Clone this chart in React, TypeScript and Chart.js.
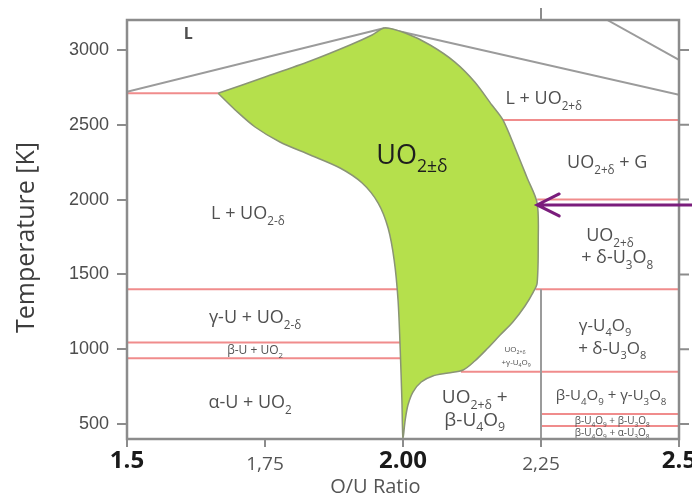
import { useEffect, useRef } from "react";
import { Chart, registerables } from "chart.js";

Chart.register(...registerables);

// ---- data (O/U ratio, temperature K) ----
const xTickValues = [1.5, 1.75, 2.0, 2.25, 2.5];
const xTickLabels = ["1.5", "1,75", "2.00", "2,25", "2.5"];
const xTickBold = [true, false, true, false, true];
const yTickValues = [500, 1000, 1500, 2000, 2500, 3000];

const uo2Region: [number, number][] = [
  [1.665, 2710], [1.75, 2819], [1.832, 2926], [1.904, 3033], [1.944, 3100], [1.967, 3147],
  [2.004, 3113], [2.049, 3033], [2.094, 2919], [2.13, 2786], [2.161, 2632], [2.181, 2532],
  [2.203, 2345], [2.225, 2144], [2.243, 1977], [2.245, 1730], [2.243, 1442], [2.236, 1382],
  [2.221, 1289], [2.199, 1182], [2.176, 1095], [2.152, 1001], [2.13, 921], [2.109, 861],
  [2.082, 841], [2.054, 821], [2.033, 781], [2.018, 714], [2.009, 627], [2.004, 527], [2.0, 400],
  [1.998, 661], [1.995, 995], [1.991, 1329], [1.984, 1596], [1.973, 1810], [1.955, 1977],
  [1.926, 2111], [1.886, 2211], [1.832, 2298], [1.777, 2385], [1.732, 2485], [1.696, 2599], [1.665, 2710],
];

const liquidusLeft: [number, number][] = [[1.5, 2720], [1.967, 3147]];
const liquidusRight: [number, number][] = [[1.967, 3147], [2.5, 2700]];
const gasBoundary: [number, number][] = [[2.37, 3200], [2.5, 2933]];
const u4o9Boundary: [number, number][] = [[2.25, 400], [2.25, 1400]];

// isotherms: [from O/U, to O/U, T]
const isotherms: [number, number, number][] = [
  [1.5, 1.665, 2710],
  [2.181, 2.5, 2532],
  [2.243, 2.5, 2000],
  [1.5, 1.99, 1400],
  [2.24, 2.5, 1400],
  [1.5, 1.995, 1045],
  [1.5, 1.995, 940],
  [2.105, 2.5, 850],
  [2.25, 2.5, 567],
  [2.25, 2.5, 487],
];

const arrowTip: [number, number] = [2.243, 1964];

const phaseLabels = [
  { text: "L", x: 1.611, T: 3113, size: 16, bold: true },
  { text: "UO_{2±δ}", x: 2.016, T: 2305, size: 27, dark: true },
  { text: "L + UO_{2+δ}", x: 2.255, T: 2679, size: 18 },
  { text: "UO_{2+δ} + G", x: 2.37, T: 2251, size: 18 },
  { text: "UO_{2+δ}", x: 2.375, T: 1763, size: 18 },
  { text: "+ δ-U_{3}O_{8}", x: 2.388, T: 1616, size: 18 },
  { text: "L + UO_{2-δ}", x: 1.719, T: 1910, size: 18 },
  { text: "γ-U + UO_{2-δ}", x: 1.732, T: 1215, size: 18 },
  { text: "β-U + UO_{2}", x: 1.732, T: 995, size: 12 },
  { text: "α-U + UO_{2}", x: 1.723, T: 647, size: 18 },
  { text: "UO_{2+δ}", x: 2.203, T: 1001, size: 8 },
  { text: "+γ-U_{4}O_{9}", x: 2.205, T: 915, size: 8 },
  { text: "UO_{2+δ} +", x: 2.13, T: 687, size: 19 },
  { text: "β-U_{4}O_{9}", x: 2.13, T: 534, size: 19 },
  { text: "γ-U_{4}O_{9}", x: 2.366, T: 1162, size: 17 },
  { text: "+ δ-U_{3}O_{8}", x: 2.379, T: 1008, size: 17 },
  { text: "β-U_{4}O_{9} + γ-U_{3}O_{8}", x: 2.377, T: 694, size: 15 },
  { text: "β-U_{4}O_{9} + β-U_{3}O_{8}", x: 2.379, T: 527, size: 10 },
  { text: "β-U_{4}O_{9} + α-U_{3}O_{8}", x: 2.379, T: 447, size: 10 },
];

const LABEL_FONT = '"Open Sans", "Liberation Sans", Arial, sans-serif';

const toPts = (arr: [number, number][]) => arr.map(([x, y]) => ({ x, y }));

function drawRich(
  ctx: CanvasRenderingContext2D,
  text: string,
  cx: number,
  cy: number,
  size: number,
  color: string,
  bold: boolean
) {
  const parts = text
    .split(/(_\{[^}]*\})/)
    .filter((p) => p.length > 0)
    .map((p) => (p.startsWith("_{") ? { t: p.slice(2, -1), sub: true } : { t: p, sub: false }));
  const subSize = size * 0.65;
  const fontOf = (s: number) => `${bold ? "bold " : ""}${s}px ${LABEL_FONT}`;
  let total = 0;
  const widths = parts.map((p) => {
    ctx.font = fontOf(p.sub ? subSize : size);
    const w = ctx.measureText(p.t).width;
    total += w;
    return w;
  });
  let x = cx - total / 2;
  const base = cy + size * 0.357;
  ctx.textAlign = "left";
  ctx.textBaseline = "alphabetic";
  ctx.fillStyle = color;
  parts.forEach((p, i) => {
    ctx.font = fontOf(p.sub ? subSize : size);
    ctx.fillText(p.t, x, p.sub ? base + size * 0.3 : base);
    x += widths[i];
  });
}

const overlayPlugin = {
  id: "phaseOverlay",
  afterDatasetsDraw(chart: any) {
    const { ctx, chartArea, scales } = chart;
    const xs = scales.x;
    const ys = scales.y;
    ctx.save();
    // phase labels
    for (const l of phaseLabels) {
      drawRich(
        ctx,
        l.text,
        xs.getPixelForValue(l.x),
        ys.getPixelForValue(l.T),
        l.size,
        (l as any).dark ? "#1e1e1e" : "#505050",
        !!(l as any).bold
      );
    }
    // frame
    ctx.strokeStyle = "#8c8c8c";
    ctx.lineWidth = 2.5;
    ctx.strokeRect(chartArea.left, chartArea.top, chartArea.right - chartArea.left, chartArea.bottom - chartArea.top);
    // mirrored ticks on the right, tick on top
    ctx.lineWidth = 2;
    ctx.beginPath();
    for (const v of yTickValues) {
      const py = ys.getPixelForValue(v);
      ctx.moveTo(chartArea.right, py);
      ctx.lineTo(chartArea.right + 10, py);
    }
    const tx = xs.getPixelForValue(2.25);
    ctx.moveTo(tx, chartArea.top);
    ctx.lineTo(tx, chartArea.top - 12);
    ctx.stroke();
    // arrow
    const ax = xs.getPixelForValue(arrowTip[0]);
    const ay = ys.getPixelForValue(arrowTip[1]);
    ctx.strokeStyle = "#7a1d7c";
    ctx.lineWidth = 3;
    ctx.lineCap = "round";
    ctx.beginPath();
    ctx.moveTo(chart.width, ay);
    ctx.lineTo(ax + 1, ay);
    ctx.moveTo(ax + 22, ay - 11);
    ctx.lineTo(ax, ay);
    ctx.lineTo(ax + 22, ay + 11);
    ctx.stroke();
    // axis titles
    ctx.fillStyle = "#3d3d3d";
    ctx.textAlign = "center";
    ctx.textBaseline = "middle";
    ctx.font = `25px ${LABEL_FONT}`;
    ctx.save();
    ctx.translate(27, (chartArea.top + chartArea.bottom) / 2 + 8);
    ctx.rotate(-Math.PI / 2);
    ctx.fillText("Temperature [K]", 0, 0);
    ctx.restore();
    ctx.fillStyle = "#555";
    ctx.font = `20px ${LABEL_FONT}`;
    ctx.fillText("O/U Ratio", xs.getPixelForValue(1.95), 487);
    ctx.restore();
  },
};

export default function App() {
  const ref = useRef<HTMLCanvasElement | null>(null);
  useEffect(() => {
    if (!ref.current) return;
    const red = "#f08c8c";
    const gray = "#9b9b9b";
    const datasets: any[] = [
      {
        data: toPts(uo2Region),
        showLine: true,
        fill: "shape",
        backgroundColor: "#b5e04c",
        borderColor: "#8a9475",
        borderWidth: 1.5,
        tension: 0.3,
        pointRadius: 0,
      },
      ...[liquidusLeft, liquidusRight, gasBoundary, u4o9Boundary].map((d) => ({
        data: toPts(d),
        showLine: true,
        borderColor: gray,
        borderWidth: 2,
        pointRadius: 0,
        fill: false,
      })),
      ...isotherms.map(([a, b, t]) => ({
        data: [
          { x: a, y: t },
          { x: b, y: t },
        ],
        showLine: true,
        borderColor: red,
        borderWidth: 2,
        pointRadius: 0,
        fill: false,
      })),
    ];
    const chart = new Chart(ref.current, {
      type: "scatter",
      data: { datasets },
      options: {
        animation: false,
        responsive: false,
        devicePixelRatio: 1,
        events: [],
        layout: { padding: { top: 20, right: 13, left: 0, bottom: 0 } },
        plugins: { legend: { display: false }, tooltip: { enabled: false } },
        scales: {
          x: {
            type: "linear",
            min: 1.5,
            max: 2.5,
            afterBuildTicks: (s: any) => {
              s.ticks = xTickValues.map((v) => ({ value: v }));
            },
            afterFit: (s: any) => {
              s.height = 60;
              s.paddingLeft = 0;
              s.paddingRight = 0;
            },
            border: { display: false },
            grid: { drawOnChartArea: false, drawTicks: true, tickLength: 8, color: "#8c8c8c", lineWidth: 2 },
            ticks: {
              autoSkip: false,
              maxRotation: 0,
              padding: 2,
              callback: (_v: any, i: number) => xTickLabels[i],
              color: (c: any) => (xTickBold[c.index] ? "#1a1a1a" : "#555"),
              font: (c: any) =>
                xTickBold[c.index]
                  ? { family: LABEL_FONT, size: 24, weight: "bold", lineHeight: "24px" }
                  : { family: LABEL_FONT, size: 19, weight: "normal", lineHeight: "32px" },
            },
          },
          y: {
            type: "linear",
            min: 400,
            max: 3200,
            afterBuildTicks: (s: any) => {
              s.ticks = yTickValues.map((v) => ({ value: v }));
            },
            afterFit: (s: any) => {
              s.width = 127;
              s.paddingTop = 0;
              s.paddingBottom = 0;
            },
            border: { display: false },
            grid: { drawOnChartArea: false, drawTicks: true, tickLength: 10, color: "#8c8c8c", lineWidth: 2 },
            ticks: {
              padding: 8,
              color: "#4d4d4d",
              callback: (v: any) => String(v),
              font: { family: '"Liberation Sans", Arial, sans-serif', size: 18 },
            },
          },
        },
      } as any,
      plugins: [overlayPlugin],
    });
    return () => chart.destroy();
  }, []);
  return (
    <div style={{ position: "absolute", left: 0, top: 0, width: 692, height: 499, background: "#fff" }}>
      <canvas ref={ref} width={692} height={499} style={{ display: "block" }} />
    </div>
  );
}
